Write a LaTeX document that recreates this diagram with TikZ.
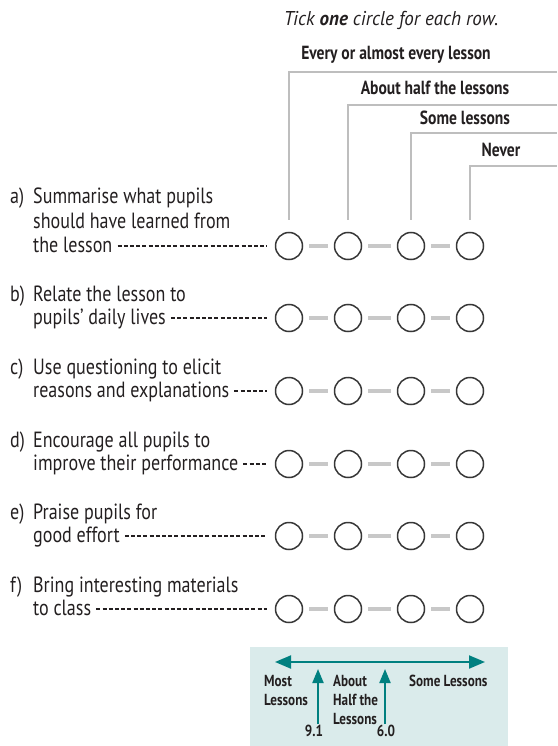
\documentclass[tikz,border=0pt]{standalone}
\usepackage{fontspec}
\setmainfont{PT Sans}[FakeStretch=0.82]
\newfontfamily\tickFont{PT Sans}[FakeStretch=0.95]
\usetikzlibrary{positioning, arrows.meta}
\tikzstyle{sheet} = [x = 1pt, y = -1pt]
\definecolor{inkColor}{RGB}{35,31,32}
\definecolor{circleColor}{RGB}{55,55,55}
\definecolor{ruleColor}{RGB}{190,190,190}
\definecolor{barColor}{RGB}{200,200,200}
\definecolor{keyFill}{RGB}{218,235,235}
\definecolor{keyArrowColor}{RGB}{0,128,128}
\tikzstyle{rowText} = [anchor = base west, inner sep = 0, font = \fontsize{22}{24}\selectfont, text = inkColor]
\tikzstyle{answerCircle} = [circle, draw = circleColor, line width = 1.5pt, minimum size = 27pt, inner sep = 0]
\tikzstyle{linkBar} = [color = barColor, line width = 4pt, shorten < = 6pt, shorten > = 6pt]
\tikzstyle{leaderLine} = [color = inkColor, line width = 1.2pt, dash pattern = on 4pt off 2.2pt, shorten < = 5pt, shorten > = 8pt]
\tikzstyle{headerText} = [font = \bfseries\fontsize{19}{21}\selectfont, text = inkColor, inner sep = 0]
\tikzstyle{headerLine} = [color = ruleColor, line width = 1.2pt, shorten < = 12pt]
\tikzstyle{keyText} = [font = \bfseries\fontsize{16}{19}\selectfont, text = inkColor, align = left, inner sep = 0]
\tikzstyle{keyArrow} = [color = keyArrowColor, line width = 2pt, -{Triangle[length = 14pt, width = 11pt]}]
\newcommand{\answerCircles}[2]{
  \foreach \column/\xpos in {1/289, 2/348, 3/411, 4/470} {
    \node [answerCircle] (#1\column) at (\xpos, #2) {};
  }
  \draw [linkBar] (#11) -- (#12);
  \draw [linkBar] (#12) -- (#13);
  \draw [linkBar] (#13) -- (#14);
}
\newcommand{\questionRow}[5]{
  \node [rowText] (#1Label) at (10, #2 - 17) {#3};
  \node [rowText] (#1Top) at (33, #2 - 17) {#4};
  \node [rowText] (#1Bottom) at (33, #2 + 6) {#5};
  \answerCircles{#1}{#2}
  \draw [leaderLine] (#1Bottom.east |- #11.west) -- (#11.west);
}

\begin{document}
\begin{tikzpicture}[sheet]
  \useasboundingbox (0,0) rectangle (557,746);

  % instruction and column headers
  \node [inner sep = 0, text = inkColor, font = \tickFont\itshape\fontsize{20}{22}\selectfont] (tick) at (391,20) {Tick \textbf{one} circle for each row.};
  \node [headerText] (everyLesson) at (396,55) {Every or almost every lesson};
  \node [headerText] (halfLessons) at (435,88) {About half the lessons};
  \node [headerText] (someLessons) at (465,118) {Some lessons};
  \node [headerText] (neverLesson) at (501,150) {Never};
  \coordinate (ruleOne) at (557,72);
  \coordinate (ruleTwo) at (557,105);
  \coordinate (ruleThree) at (557,133);
  \coordinate (ruleFour) at (557,166);

  % rows
  \node [rowText] (aLabel) at (10,204) {a)};
  \node [rowText] (aTop) at (33,204) {Summarise what pupils};
  \node [rowText] (aMiddle) at (33,228) {should have learned from};
  \node [rowText] (aBottom) at (33,252) {the lesson};
  \answerCircles{a}{246}
  \draw [leaderLine] (aBottom.east |- a1.west) -- (a1.west);

  \questionRow{b}{318}{b)}{Relate the lesson to}{pupils' daily lives}
  \questionRow{c}{391}{c)}{Use questioning to elicit}{reasons and explanations}
  \questionRow{d}{464}{d)}{Encourage all pupils to}{improve their performance}
  \questionRow{e}{536}{e)}{Praise pupils for}{good effort}
  \questionRow{f}{609}{f)}{Bring interesting materials}{to class}

  \draw [headerLine] (a1.north) |- (ruleOne);
  \draw [headerLine] (a2.north) |- (ruleTwo);
  \draw [headerLine] (a3.north) |- (ruleThree);
  \draw [headerLine] (a4.north) |- (ruleFour);

  % key
  \fill [keyFill] (250,647) rectangle (508,746);
  \coordinate (keyLeft) at (275,662);
  \coordinate (keyRight) at (485,662);
  \draw [keyArrow, {Triangle[length = 16pt, width = 13pt]}-{Triangle[length = 16pt, width = 13pt]}] (keyLeft) -- (keyRight);
  \node [keyText, anchor = north west] (mostLessons) at (264,675) {Most\\Lessons};
  \node [keyText, anchor = north west] (halfKey) at (333,675) {About\\Half the\\Lessons};
  \node [keyText, anchor = north west] (someKey) at (409,675) {Some Lessons};
  \node [keyText] (nineOne) at (314,731) {9.1};
  \node [keyText] (sixZero) at (386,731) {6.0};
  \coordinate (mostTip) at (318,669);
  \coordinate (mostFoot) at (318,724);
  \coordinate (halfTip) at (385,669);
  \coordinate (halfFoot) at (385,724);
  \draw [keyArrow] (mostFoot) -- (mostTip);
  \draw [keyArrow] (halfFoot) -- (halfTip);
\end{tikzpicture}
\end{document}
